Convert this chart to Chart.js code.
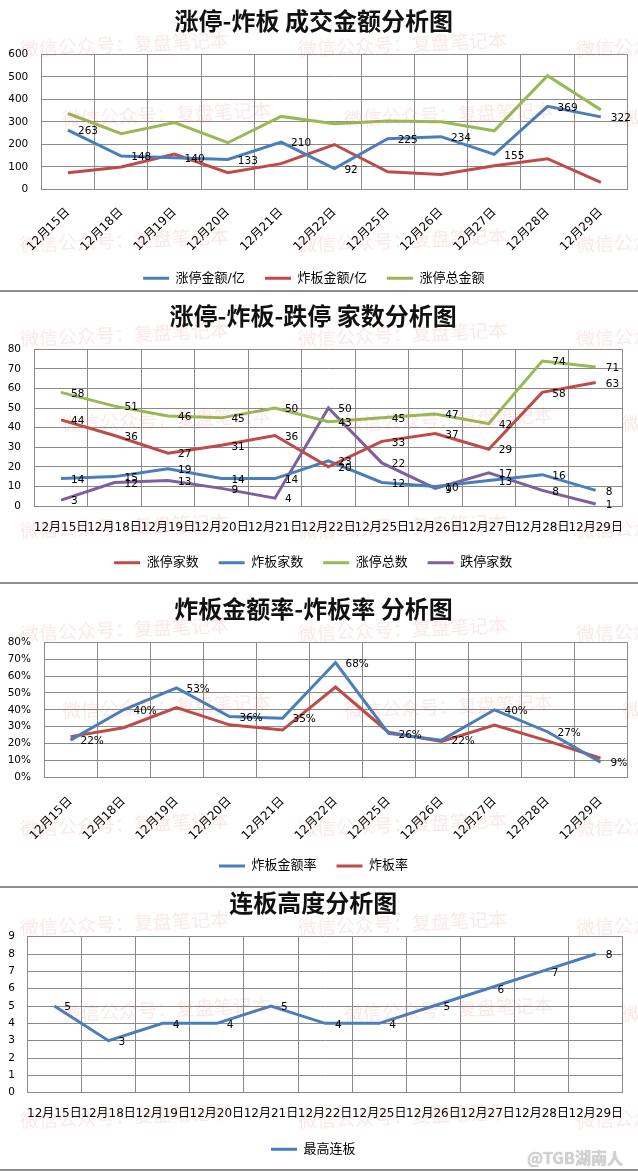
<!DOCTYPE html>
<html>
<head>
<meta charset="utf-8">
<script src="https://cdn.jsdelivr.net/npm/chart.js@4.4.1/dist/chart.umd.min.js"></script>
<style>
body { margin: 0; background: #fff; width: 638px; height: 1171px; position: relative; overflow: hidden; }
canvas { position: absolute; left: 0; }
.sep { position: absolute; left: 0; width: 638px; height: 2px; background: #8e8e8e; z-index: 2; }
.wm { position: absolute; font-family: "Noto Sans CJK SC"; font-size: 19px; line-height: 24px; color: rgba(225, 80, 80, 0.13);
      white-space: nowrap; transform: rotate(-2.5deg); transform-origin: left center; pointer-events: none; z-index: 3; }
.weibo { position: absolute; left: 527px; top: 1145px; font-family: "Noto Sans CJK SC"; font-size: 16px; font-weight: bold;
         color: #d2d2d2; text-shadow: 0 0 1px #aaa; z-index: 3; }
</style>
</head>
<body>
<canvas id="c1" width="638" height="296" style="top:0px"></canvas>
<div class="sep" style="top:290px"></div>
<canvas id="c2" width="638" height="288" style="top:292px"></canvas>
<div class="sep" style="top:582px"></div>
<canvas id="c3" width="638" height="299" style="top:584px"></canvas>
<div class="sep" style="top:886px"></div>
<canvas id="c4" width="638" height="278" style="top:888px"></canvas>
<div class="sep" style="top:1169px"></div>
<div class="weibo">@TGB湖南人</div>
<script>
// 日期
var dates = ['12月15日', '12月18日', '12月19日', '12月20日', '12月21日', '12月22日', '12月25日', '12月26日', '12月27日', '12月28日', '12月29日'];

// 成交金额 (亿)
var ztAmount = [263, 148, 140, 133, 210, 92, 225, 234, 155, 369, 322];
var zbAmount = [74, 99, 157, 74, 114, 199, 78, 66, 105, 136, 31];
var ztTotalAmount = [337, 247, 297, 207, 324, 291, 303, 300, 260, 505, 353];

// 家数
var ztCount = [44, 36, 27, 31, 36, 20, 33, 37, 29, 58, 63];
var zbCount = [14, 15, 19, 14, 14, 23, 12, 10, 13, 16, 8];
var ztTotal = [58, 51, 46, 45, 50, 43, 45, 47, 42, 74, 71];
var dtCount = [3, 12, 13, 9, 4, 50, 22, 9, 17, 8, 1];

// 比率 (%)
var zbAmountRate = [22, 40, 53, 36, 35, 68, 26, 22, 40, 27, 9];
var zbRate = [24.1, 29.4, 41.3, 31.1, 28, 53.5, 26.7, 21.3, 31, 21.6, 11.3];

// 最高连板
var maxBoard = [5, 3, 4, 4, 5, 4, 4, 5, 6, 7, 8];

var BLUE = '#4a7ebb', RED = '#be4b48', GREEN = '#98b954', PURPLE = '#7d60a0';
var gridColor = '#8a8a8a';
var fontFamily = "'DejaVu Sans', 'Noto Sans CJK SC'";

// 数据标签 (点的右侧)
var valueLabels = {
    id: 'valueLabels',
    afterDatasetsDraw: function(chart) {
        var ctx = chart.ctx;
        ctx.save();
        ctx.font = '10.5px ' + fontFamily;
        ctx.fillStyle = '#000';
        ctx.textAlign = 'left';
        ctx.textBaseline = 'middle';
        chart.data.datasets.forEach(function(ds, i) {
            if (!ds.showValues) return;
            chart.getDatasetMeta(i).data.forEach(function(pt, j) {
                ctx.fillText(ds.data[j] + (ds.suffix || ''), pt.x + 10, pt.y + 1.5);
            });
        });
        ctx.restore();
    }
};

function legendItems(chart) {
    var items = Chart.defaults.plugins.legend.labels.generateLabels(chart);
    items.forEach(function(it) {
        it.fillStyle = it.strokeStyle;
        it.lineWidth = 0;
    });
    return items;
}

function series(label, data, color, showValues, suffix) {
    return {
        label: label,
        data: data,
        borderColor: color,
        backgroundColor: color,
        showValues: showValues,
        suffix: suffix
    };
}

function makeChart(id, c) {
    return new Chart(document.getElementById(id), {
        type: 'line',
        data: { labels: dates, datasets: c.datasets },
        plugins: [valueLabels],
        options: {
            responsive: false,
            animation: false,
            layout: { padding: { left: 0, right: c.right, top: 0, bottom: c.bottom } },
            elements: {
                line: { borderWidth: 3, tension: 0 },
                point: { radius: 0, hoverRadius: 0 }
            },
            plugins: {
                title: {
                    display: true,
                    text: c.title,
                    color: '#111',
                    font: { family: "'Noto Sans CJK SC'", size: 24, weight: 'bold', lineHeight: 1.2 },
                    padding: { top: c.titleTop, bottom: c.titleBottom }
                },
                legend: {
                    position: 'bottom',
                    labels: {
                        boxWidth: 26,
                        boxHeight: 3,
                        padding: 20,
                        color: '#000',
                        font: { family: fontFamily, size: 13 },
                        generateLabels: legendItems
                    }
                },
                tooltip: { enabled: false }
            },
            scales: {
                x: {
                    offset: true,
                    grid: { offset: true, color: gridColor, drawTicks: false },
                    border: { color: gridColor },
                    ticks: {
                        autoSkip: false,
                        maxRotation: c.rotation,
                        minRotation: c.rotation,
                        padding: c.xPad,
                        color: '#000',
                        font: { family: fontFamily, size: 12 }
                    },
                    afterFit: function(s) { s.height = c.xHeight; }
                },
                y: {
                    min: 0,
                    max: c.max,
                    grid: { color: gridColor, drawTicks: false },
                    border: { color: gridColor },
                    ticks: {
                        stepSize: c.step,
                        padding: c.yPad,
                        color: '#000',
                        font: { family: fontFamily, size: 10.5 },
                        callback: function(v) { return v + (c.suffix || ''); }
                    },
                    afterFit: function(s) { s.width = c.left; }
                }
            }
        }
    });
}

// 涨停-炸板 成交金额分析图
makeChart('c1', {
    title: '涨停-炸板 成交金额分析图',
    titleTop: 6.3, titleBottom: 19.2,
    datasets: [
        series('涨停金额/亿', ztAmount, BLUE, true),
        series('炸板金额/亿', zbAmount, RED, false),
        series('涨停总金额', ztTotalAmount, GREEN, false)
    ],
    max: 600, step: 100,
    left: 41.3, right: 10.5, bottom: 1.2,
    rotation: 45, xPad: 16, xHeight: 62.5, yPad: 13
});

// 涨停-炸板-跌停 家数分析图
makeChart('c2', {
    title: '涨停-炸板-跌停 家数分析图',
    titleTop: 9.3, titleBottom: 19.2,
    datasets: [
        series('涨停家数', ztCount, RED, true),
        series('炸板家数', zbCount, BLUE, true),
        series('涨停总数', ztTotal, GREEN, true),
        series('跌停家数', dtCount, PURPLE, true)
    ],
    max: 80, step: 10,
    left: 34.3, right: 11.7, bottom: 0.8,
    rotation: 0, xPad: 14.5, xHeight: 30.2, yPad: 13.3
});

// 炸板金额率-炸板率 分析图
makeChart('c3', {
    title: '炸板金额率-炸板率 分析图',
    titleTop: 10.9, titleBottom: 18.6,
    datasets: [
        series('炸板金额率', zbAmountRate, BLUE, true, '%'),
        series('炸板率', zbRate, RED, false)
    ],
    max: 80, step: 10, suffix: '%',
    left: 44, right: 11, bottom: 0.5,
    rotation: 45, xPad: 17, xHeight: 62.2, yPad: 13
});

// 连板高度分析图
makeChart('c4', {
    title: '连板高度分析图',
    titleTop: 0.9, titleBottom: 19,
    datasets: [
        series('最高连板', maxBoard, BLUE, true)
    ],
    max: 9, step: 1,
    left: 27.3, right: 11.5, bottom: 0.2,
    rotation: 0, xPad: 14.4, xHeight: 30.1, yPad: 12.3
});

// 水印
var wmRows = [48, 118, 244, 338, 423, 530, 633, 710, 828, 927, 1013, 1120];
wmRows.forEach(function(y, i) {
    var xs = (i % 3 === 1) ? [62, 344, 622] : [20, 298, 576];
    xs.forEach(function(x) {
        var d = document.createElement('div');
        d.className = 'wm';
        d.textContent = '微信公众号：复盘笔记本';
        d.style.left = x + 'px';
        d.style.top = (y - 12) + 'px';
        document.body.appendChild(d);
    });
});
</script>
</body>
</html>
